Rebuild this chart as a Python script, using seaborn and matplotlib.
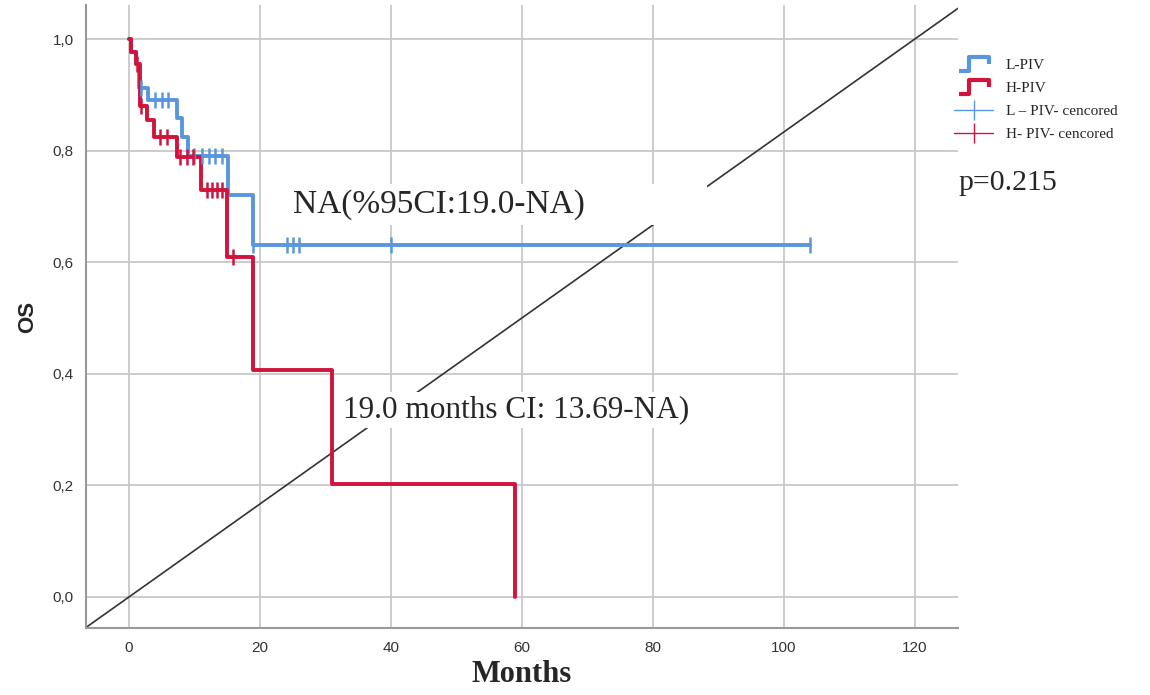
import matplotlib
matplotlib.use('Agg')
import matplotlib.pyplot as plt
import seaborn as sns
import numpy as np
from matplotlib.lines import Line2D
from matplotlib.path import Path

# Estilo
sns.set_style("white")
plt.rcParams['font.family'] = ['Liberation Sans', 'DejaVu Sans']

# Datos (Kaplan-Meier)
l_time = [0, 0.3, 1.0, 1.5, 2.9, 7.3, 8.1, 9.0, 15.1, 19.0, 104]
l_surv = [1.0, 0.977, 0.955, 0.912, 0.89, 0.858, 0.824, 0.79, 0.72, 0.63, 0.63]
l_cens = [1.9, 4.0, 5.0, 6.0, 10.0, 11.2, 12.2, 13.2, 14.2, 19.0, 24.1, 25.0, 26.0, 40.0, 104.0]

h_time = [0, 0.3, 1.0, 1.7, 2.8, 3.9, 7.3, 11.0, 15.0, 19.0, 31.0, 59.0]
h_surv = [1.0, 0.977, 0.955, 0.88, 0.855, 0.824, 0.789, 0.73, 0.61, 0.406, 0.203, 0.0]
h_cens = [1.2, 1.8, 4.8, 5.8, 7.8, 8.8, 9.8, 11.9, 12.7, 13.4, 14.2, 15.9]

x_ticks = [0, 20, 40, 60, 80, 100, 120]
y_ticks = [0.0, 0.2, 0.4, 0.6, 0.8, 1.0]
y_ticklabels = ['0,0', '0,2', '0,4', '0,6', '0,8', '1,0']

labels = ['L-PIV', 'H-PIV', 'L \u2013 PIV- cencored', 'H- PIV- cencored']
c_blue = '#5A96DE'
c_red = '#D0143C'
serif = ['Liberation Serif', 'DejaVu Serif']


def surv_at(times, surv, t):
    idx = np.searchsorted(times, t, side='right') - 1
    return np.array(surv)[idx]


fig = plt.figure(figsize=(11.5, 6.95), dpi=100)
ax = fig.add_axes([86 / 1150, 1 - 628 / 695, 872 / 1150, 623 / 695])

# línea diagonal de referencia
ax.axline((0, 0), slope=1 / 120, color='#333333', lw=1.2, zorder=1)

# curvas (H-PIV encima)
sns.lineplot(x=l_time, y=l_surv, drawstyle='steps-post', estimator=None, sort=False,
             color=c_blue, linewidth=2.8, ax=ax, zorder=3)
sns.lineplot(x=h_time, y=h_surv, drawstyle='steps-post', estimator=None, sort=False,
             color=c_red, linewidth=2.8, ax=ax, zorder=4)

# censurados
sns.scatterplot(x=l_cens, y=surv_at(l_time, l_surv, l_cens), marker='|', s=120,
                color=c_blue, linewidth=1.8, ax=ax, zorder=5)
sns.scatterplot(x=h_cens, y=surv_at(h_time, h_surv, h_cens), marker='|', s=120,
                color=c_red, linewidth=1.8, ax=ax, zorder=5)

ax.set_xlim(-6.56, 126.6)
ax.set_ylim(-0.0556, 1.061)
ax.set_xticks(x_ticks)
ax.set_yticks(y_ticks)
ax.set_yticklabels(y_ticklabels)
ax.tick_params(length=0, labelsize=11, colors='#333333', pad=9)
ax.grid(True, color='#c8c8c8', lw=1.3)
ax.set_axisbelow(True)
for s in ['top', 'right']:
    ax.spines[s].set_visible(False)
for s in ['left', 'bottom']:
    ax.spines[s].set_color('#999999')
    ax.spines[s].set_linewidth(1.5)

ax.set_xlabel('Months', family=serif, fontsize=22, fontweight='bold', labelpad=4)
ax.set_ylabel('OS', fontsize=16, fontweight='bold', labelpad=10)

# anotaciones
ax.text(25.0, 0.703, 'NA(%95CI:19.0-NA)' + '\u00a0' * 14, family=serif, fontsize=24,
        va='center', ha='left', zorder=6,
        bbox=dict(boxstyle='square,pad=0.15', fc='white', ec='none'))
ax.text(32.7, 0.335, '19.0 months CI: 13.69-NA)', family=serif, fontsize=22.5,
        va='center', ha='left', zorder=6,
        bbox=dict(boxstyle='square,pad=0.1', fc='white', ec='none'))

# leyenda
step = Path([(-1, -0.45), (-0.3, -0.45), (-0.3, 0.45), (1, 0.45), (1, 0.0)])
handles = [
    Line2D([], [], linestyle='none', marker=step, markersize=22, mfc='none',
           mec=c_blue, mew=3),
    Line2D([], [], linestyle='none', marker=step, markersize=22, mfc='none',
           mec=c_red, mew=3),
    Line2D([], [], color=c_blue, lw=1, marker='|', markersize=14, mew=1),
    Line2D([], [], color=c_red, lw=1, marker='|', markersize=14, mew=1),
]
fig.legend(handles, labels, loc='upper left', bbox_to_anchor=(940 / 1150, 1 - 45 / 695),
           frameon=False, prop={'family': serif, 'size': 11}, handlelength=2.6,
           labelspacing=0.6, handletextpad=0.8)

fig.text(958 / 1150, 1 - 183 / 695, 'p=0.215', family=serif, fontsize=21.5, va='center')

fig.savefig('out.png', dpi=100)
